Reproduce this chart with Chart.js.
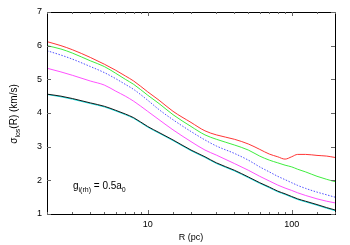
<!DOCTYPE html>
<html>
<head>
<meta charset="utf-8">
<script src="https://cdn.jsdelivr.net/npm/chart.js@4"></script>
<style>
  body { margin: 0; background: #fff; }
</style>
</head>
<body>
<canvas id="sigmachart" width="350" height="245"></canvas>
<script>
const radius = [2, 2.5, 3, 4, 5, 6, 7, 8, 10, 12, 15, 20, 25, 30, 40, 50, 60, 70, 80, 90, 100, 110, 125, 150, 175, 200];

const redLine     = [6.12, 6.0, 5.88, 5.65, 5.45, 5.27, 5.1, 4.95, 4.63, 4.38, 4.05, 3.72, 3.47, 3.35, 3.22, 3.08, 2.92, 2.78, 2.7, 2.63, 2.7, 2.77, 2.77, 2.74, 2.72, 2.68];
const greenLine   = [6.0, 5.9, 5.78, 5.55, 5.38, 5.18, 5.0, 4.85, 4.53, 4.28, 3.95, 3.6, 3.35, 3.22, 3.05, 2.9, 2.72, 2.6, 2.52, 2.45, 2.4, 2.33, 2.25, 2.12, 2.03, 1.96];
const blueLine    = [5.85, 5.72, 5.6, 5.38, 5.2, 5.02, 4.85, 4.7, 4.38, 4.1, 3.8, 3.45, 3.2, 3.02, 2.8, 2.6, 2.4, 2.25, 2.12, 2.02, 1.93, 1.85, 1.76, 1.65, 1.57, 1.5];
const magentaLine = [5.33, 5.22, 5.12, 4.95, 4.83, 4.65, 4.5, 4.35, 4.05, 3.8, 3.5, 3.15, 2.9, 2.75, 2.5, 2.3, 2.12, 1.98, 1.86, 1.77, 1.7, 1.63, 1.55, 1.45, 1.38, 1.33];
const blackLine   = [4.56, 4.5, 4.43, 4.3, 4.2, 4.08, 3.97, 3.86, 3.6, 3.42, 3.2, 2.9, 2.7, 2.52, 2.3, 2.1, 1.93, 1.8, 1.68, 1.6, 1.52, 1.45, 1.38, 1.28, 1.19, 1.12];
const cyanLine    = [4.55, 4.48, 4.41, 4.28, 4.18, 4.06, 3.95, 3.84, 3.58, 3.4, 3.18, 2.88, 2.68, 2.5, 2.28, 2.08, 1.91, 1.78, 1.66, 1.58, 1.5, 1.43, 1.36, 1.26, 1.17, 1.1];

const xLabels = [10, 100];
const yTicks = [1, 2, 3, 4, 5, 6, 7];

const font = 'Liberation Sans, Arial, sans-serif';

function pts(vals) {
    return radius.map((r, i) => ({x: r, y: vals[i]}));
}

function line(vals, color, dash) {
    return {
        data: pts(vals),
        borderColor: color,
        borderWidth: 0.9,
        borderDash: dash || [],
        pointRadius: 0,
        cubicInterpolationMode: 'monotone',
        fill: false,
    };
}

// frame, inward ticks and the texts, gnuplot style
const framePlugin = {
    id: 'frame',
    afterDatasetsDraw(chart) {
        const c = chart.ctx;
        const a = chart.chartArea;
        const xs = chart.scales.x;
        const ys = chart.scales.y;
        c.save();
        c.strokeStyle = '#000';
        c.lineWidth = 1;
        c.strokeRect(Math.round(a.left) + 0.5, Math.round(a.top) + 0.5, Math.round(a.right - a.left), Math.round(a.bottom - a.top));
        c.strokeStyle = '#666';
        c.beginPath();
        yTicks.forEach(v => {
            const y = Math.round(ys.getPixelForValue(v)) + 0.5;
            c.moveTo(a.left, y); c.lineTo(a.left + 4, y);
            c.moveTo(a.right, y); c.lineTo(a.right - 4, y);
        });
        xs.ticks.forEach(t => {
            const x = Math.round(xs.getPixelForValue(t.value)) + 0.5;
            const len = xLabels.includes(t.value) ? 4 : 2;
            c.moveTo(x, a.bottom); c.lineTo(x, a.bottom - len);
            c.moveTo(x, a.top); c.lineTo(x, a.top + len);
        });
        c.stroke();

        c.fillStyle = '#000';
        // x title
        c.font = '9px ' + font;
        c.textAlign = 'center';
        c.textBaseline = 'alphabetic';
        c.fillText('R (pc)', (a.left + a.right) / 2, 240);

        // y title, rotated
        c.save();
        c.translate(17, 114);
        c.rotate(-Math.PI / 2);
        c.textAlign = 'left';
        const p1 = 'σ', p3 = '(R) (km/s)';
        c.font = '7px ' + font;
        const wSub = c.measureText('los').width;
        c.font = '10px ' + font;
        const w1 = c.measureText(p1).width, w3 = c.measureText(p3).width;
        let x0 = -(w1 + wSub + w3) / 2;
        c.fillText(p1, x0, 0);
        c.font = '7px ' + font;
        c.fillText('los', x0 + w1, 3);
        c.font = '10px ' + font;
        c.fillText(p3, x0 + w1 + wSub, 0);
        c.restore();

        // annotation
        c.textAlign = 'left';
        let ax = 73, ay = 189;
        c.font = '10px ' + font;
        c.fillText('g', ax, ay);
        ax += c.measureText('g').width;
        c.font = '7px ' + font;
        c.fillText('i(rh)', ax, ay + 3);
        ax += c.measureText('i(rh)').width;
        c.font = '10px ' + font;
        c.fillText(' = 0.5a', ax, ay);
        ax += c.measureText(' = 0.5a').width;
        c.font = '7px ' + font;
        c.fillText('0', ax, ay + 3);
        c.restore();
    }
};

const config = {
    type: 'line',
    data: {
        datasets: [
            line(redLine, 'rgb(255,30,30)'),
            line(greenLine, 'rgb(40,235,40)'),
            line(blueLine, 'rgb(60,60,255)', [1.5, 1.5]),
            line(magentaLine, 'rgb(255,60,255)'),
            line(blackLine, 'rgb(0,0,0)'),
            line(cyanLine, 'rgb(0,220,220)'),
        ],
    },
    options: {
        responsive: false,
        animation: false,
        layout: { padding: { left: 0, right: 15, top: 12, bottom: 0 } },
        plugins: { legend: { display: false }, tooltip: { enabled: false } },
        scales: {
            x: {
                type: 'logarithmic',
                min: 2,
                max: 200,
                grid: { display: false, drawTicks: false },
                border: { display: false },
                ticks: {
                    autoSkip: false,
                    maxRotation: 0,
                    padding: 5,
                    color: '#000',
                    font: { family: font, size: 9 },
                    callback: v => xLabels.includes(v) ? String(v) : '',
                },
                afterFit: s => { s.height = 31; },
            },
            y: {
                min: 1,
                max: 7,
                grid: { display: false, drawTicks: false },
                border: { display: false },
                ticks: {
                    stepSize: 1,
                    padding: 5,
                    color: '#000',
                    font: { family: font, size: 9 },
                },
                afterFit: s => { s.width = 47; },
            },
        },
    },
    plugins: [framePlugin],
};

const chart = new Chart(document.getElementById('sigmachart'), config);
</script>
</body>
</html>
